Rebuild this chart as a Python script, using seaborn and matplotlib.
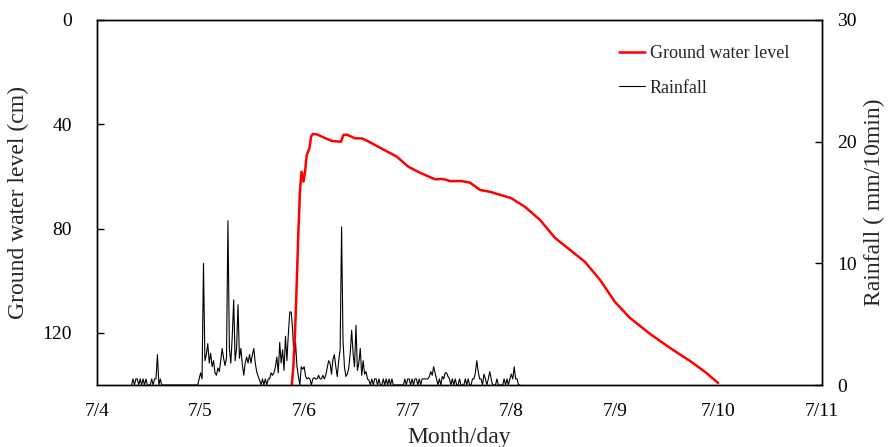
import numpy as np
import pandas as pd
import matplotlib
matplotlib.use('Agg')
import matplotlib.pyplot as plt
import seaborn as sns

# nivel freatico: horas desde 7/4 0:00 y profundidad (cm)
gw_hours = [45.12, 45.49, 45.88, 46.28, 46.65, 47.04, 47.39, 47.85, 48.20, 48.59,
            49.24, 49.59, 49.98, 50.98, 52.44, 54.39, 56.54, 57.08, 57.93, 59.79,
            61.34, 63.03, 65.58, 69.45, 72.14, 74.85, 78.32, 80.25, 81.80, 84.51,
            86.44, 88.75, 91.07, 95.94, 99.18, 102.66, 106.13, 109.61, 113.08, 116.56,
            120.04, 123.51, 128.15, 132.78, 137.42, 140.90, 143.91]
gw_level = [140.0, 133.0, 120.1, 100.9, 81.7, 65.2, 58.2, 62.0, 58.2, 51.8,
            49.1, 44.8, 43.7, 43.9, 45.0, 46.4, 46.7, 44.1, 44.0, 45.4,
            45.4, 46.7, 49.0, 52.4, 56.3, 58.6, 61.1, 61.0, 61.8, 61.8,
            62.4, 65.2, 65.9, 68.3, 71.7, 76.7, 83.6, 88.2, 92.8, 99.7,
            108.2, 114.3, 120.4, 125.8, 130.8, 135.0, 139.2]

# lluvia cada 20 min desde 7/4 8:00 (mm/10min)
rain_start = 8.0
rain_step = 1.0 / 3.0
rain_mm = [0,
           0.5, 0, 0.5, 0.5, 0, 0.5, 0, 0.5, 0, 0.5,
           0, 0, 0,
           0.5, 0, 0.5, 0.5, 2.5, 0, 0.5, 0,
           0, 0, 0, 0, 0, 0, 0, 0, 0, 0, 0, 0, 0, 0, 0, 0, 0, 0, 0, 0, 0, 0, 0, 0, 0,
           0.5, 1.0, 0.5, 10.0, 2.0,
           2.5, 3.4, 1.8, 2.6, 1.5, 2.0, 1.0, 0.8, 1.4, 1.1, 2.0, 3.0, 2.2, 1.6, 2.2,
           13.5,
           3.0, 1.8, 4.0, 7.0, 2.0, 3.0, 6.6, 2.2, 3.0, 1.7, 0.8, 1.8, 2.3, 1.8, 2.5,
           1.8, 2.5, 3.0, 1.8, 1.1, 0.7, 0.4,
           0, 0.5, 0, 0.5, 0, 0.5, 0.5, 1.0, 0.8, 1.0, 1.5, 2.3, 1.0,
           3.5, 1.8, 2.9, 1.2, 4.0, 2.0, 4.2, 6.0, 6.0, 4.5, 2.0, 3.5, 1.5, 0.7, 0,
           1.5, 1.3, 1.5, 0.7, 0.5, 0.6, 0.5, 0, 0.5, 0.6, 0.5, 0.5, 0.8, 0.5,
           0.5, 0.8, 0.5, 0.8, 1.4, 2.0, 1.8, 0.9, 2.1, 2.5, 1.5, 0.7, 2.0, 2.9,
           13.0,
           3.6, 1.5, 0.7, 0.9, 1.4, 2.6, 4.5, 2.6, 1.5, 4.9, 1.2, 1.8, 3.0, 0.8, 2.0,
           0.9, 1.1, 0.5, 0.4,
           0, 0.5, 0, 0.5, 0.5, 0, 0.5, 0, 0, 0.5, 0, 0.5, 0, 0.5, 0, 0.5, 0,
           0, 0, 0, 0, 0, 0, 0,
           0.5, 0, 0.5, 0.5, 0, 0.5, 0, 0.5, 0.5, 0, 0.5, 0, 0.5, 0.5, 0.5, 0.5,
           0.5, 0.7, 1.1, 0.8, 1.5, 1.0, 0.5, 0, 0.5, 0, 0.7, 0.5, 1.0, 1.0, 0.7, 0.5,
           0, 0.5, 0, 0.5, 0, 0, 0.5, 0, 0, 0, 0.5, 0, 0.5, 0, 0, 0.5,
           0.5, 1.0, 2.0, 1.1, 0.5, 0.5, 0, 0.9, 0.5, 0, 0.5, 1.1, 0.5, 0, 0, 0,
           0.5, 0, 0, 0, 0, 0.5, 0, 0.5, 0, 0.5, 0.9, 0.5, 1.5, 0.5, 0.5, 0, 0]

dias = ['7/4', '7/5', '7/6', '7/7', '7/8', '7/9', '7/10', '7/11']
gw_ticks = [0, 40, 80, 120]
rain_ticks = [0, 10, 20, 30]

sns.set_theme(style='ticks')
plt.rcParams['font.family'] = ['Liberation Serif', 'DejaVu Serif']

df_gw = pd.DataFrame({'hora': gw_hours, 'nivel': gw_level})
rain_hours = rain_start + np.arange(len(rain_mm)) * rain_step
df_rain = pd.DataFrame({'hora': rain_hours, 'lluvia': rain_mm})

fig = plt.figure(figsize=(8.91, 4.47), dpi=100)
ax1 = fig.add_axes([0.1089, 0.1387, 0.8137, 0.8166])
ax2 = ax1.twinx()
ax1.set_zorder(ax2.get_zorder() + 1)
ax1.patch.set_visible(False)

sns.lineplot(data=df_rain, x='hora', y='lluvia', ax=ax2, color='black',
             linewidth=0.8, label='Rainfall', legend=False)
sns.lineplot(data=df_gw, x='hora', y='nivel', ax=ax1, color='red',
             linewidth=1.8, label='Ground water level', legend=False)

ax1.set_xlim(0, 168)
ax1.set_xticks([24 * i for i in range(len(dias))])
ax1.set_xticklabels(dias)
ax1.set_ylim(140, 0)
ax1.set_yticks(gw_ticks)
ax2.set_ylim(0, 30)
ax2.set_yticks(rain_ticks)

ax1.tick_params(axis='x', length=0, pad=13, labelsize=14, colors='black')
ax1.tick_params(axis='y', direction='in', length=5, width=1, pad=18, labelsize=14, colors='black')
ax2.tick_params(axis='y', direction='in', length=5, width=1, pad=11, labelsize=14, colors='black')

ax1.set_xlabel('Month/day', fontsize=17, labelpad=5)
ax1.set_ylabel('Ground water level (cm)', fontsize=17, labelpad=10)
ax2.set_ylabel('Rainfall ( mm/10min)', fontsize=17, labelpad=5)

for ax in (ax1, ax2):
    for s in ax.spines.values():
        s.set_color('black')
        s.set_linewidth(1.0)

h1, l1 = ax1.get_legend_handles_labels()
h2, l2 = ax2.get_legend_handles_labels()
ax1.legend(h1 + h2, l1 + l2, loc='upper left', bbox_to_anchor=(0.71, 0.95),
           frameon=False, fontsize=13, handlelength=1.45, handletextpad=0.25,
           labelspacing=0.95, borderaxespad=0)

fig.savefig('out.png', dpi=100)
